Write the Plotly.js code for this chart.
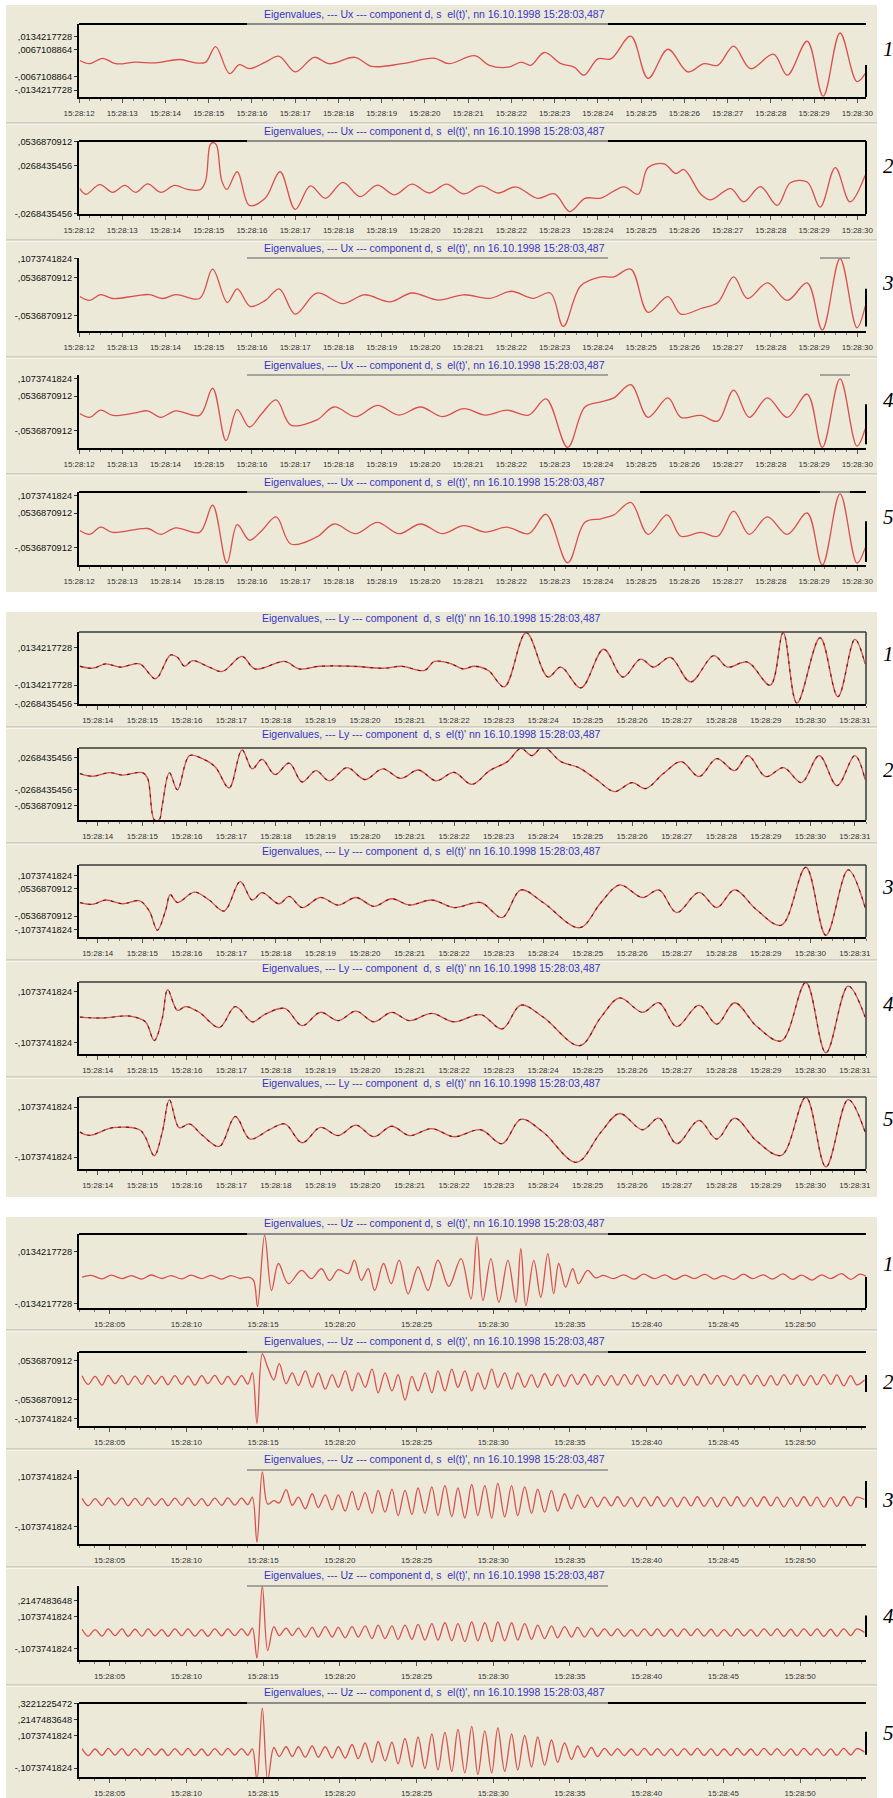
<!DOCTYPE html>
<html><head><meta charset="utf-8">
<script src="https://cdn.plot.ly/plotly-3.0.1.min.js"></script>
<style>html,body{margin:0;padding:0;background:#fff}#chart{width:893px;height:1798px}</style>
</head><body><div id="chart"></div>
<script>
// ---------------- DATA (times in seconds after 15:28:00) ----------------
const groupTitles = [
  "Eigenvalues, --- Ux --- component d, s  el(t)', nn 16.10.1998 15:28:03,487",
  "Eigenvalues, --- Ly --- component  d, s  el(t)' nn 16.10.1998 15:28:03,487",
  "Eigenvalues, --- Uz --- component d, s  el(t)', nn 16.10.1998 15:28:03,487"
];
const panelNumbers = ['1','2','3','4','5'];

const uxTickVals = [12,13,14,15,16,17,18,19,20,21,22,23,24,25,26,27,28,29,30];
const uxTickText = ['15:28:12','15:28:13','15:28:14','15:28:15','15:28:16','15:28:17','15:28:18','15:28:19','15:28:20','15:28:21','15:28:22','15:28:23','15:28:24','15:28:25','15:28:26','15:28:27','15:28:28','15:28:29','15:28:30'];
const lyTickVals = [14,15,16,17,18,19,20,21,22,23,24,25,26,27,28,29,30,31];
const lyTickText = ['15:28:14','15:28:15','15:28:16','15:28:17','15:28:18','15:28:19','15:28:20','15:28:21','15:28:22','15:28:23','15:28:24','15:28:25','15:28:26','15:28:27','15:28:28','15:28:29','15:28:30','15:28:31'];
const uzTickVals = [5,10,15,20,25,30,35,40,45,50];
const uzTickText = ['15:28:05','15:28:10','15:28:15','15:28:20','15:28:25','15:28:30','15:28:35','15:28:40','15:28:45','15:28:50'];

// Ux component
const ux1T = [12.02,12.25,12.55,12.85,13.31,13.77,14.33,14.70,14.93,15.16,15.48,15.71,15.94,16.31,16.63,17.0,17.44,17.78,18.38,18.77,19.47,20.23,20.55,21.15,21.49,21.93,22.23,22.45,22.76,23.15,23.45,23.68,24.0,24.3,24.76,25.16,25.62,26.08,26.45,26.77,27.14,27.53,28.06,28.38,28.84,29.21,29.6,29.99,30.18];
const ux1V = [0.0014,-0.0002,0.0025,-0.0002,0.0006,0.0002,0.0019,0.0002,0.0006,0.0083,-0.0051,-0.0007,-0.0027,0.0006,0.0035,-0.0043,0.003,-0.0002,0.003,-0.0015,-0.0002,0.0025,-0.0002,0.0038,-0.001,-0.0019,0.0006,-0.001,0.0054,-0.0002,-0.0019,-0.0059,0.0022,0.0022,0.0135,-0.0075,0.007,-0.0043,-0.0002,-0.001,0.0086,-0.0027,0.0046,-0.0059,0.011,-0.0164,0.0151,-0.0091,-0.0051];
const ux2T = [12.02,12.16,12.48,12.78,13.06,13.31,13.59,13.89,14.21,14.51,14.81,14.93,15.03,15.1,15.18,15.3,15.42,15.66,15.94,16.31,16.65,17.0,17.35,17.7,18.1,18.5,18.9,19.3,19.7,20.1,20.5,20.9,21.3,21.7,22.1,22.6,23.0,23.35,23.7,24.07,24.6,24.93,25.16,25.53,25.8,25.99,26.38,26.61,27.07,27.37,27.76,28.15,28.45,28.84,29.14,29.49,29.83,30.18];
const ux2V = [0.001,-0.0054,0.0054,-0.0032,0.0045,-0.0032,0.0062,-0.0032,0.0045,0,0,0.01,0.05,0.053,0.05,0.01,0,0.02,-0.018,-0.0097,0.02,-0.0225,0.004,-0.01,0.008,-0.008,0.005,-0.006,0.006,-0.004,0.006,-0.005,0.004,-0.004,0.003,-0.01,-0.005,-0.025,-0.01,-0.0097,0.003,-0.0054,0.0247,0.029,0.018,0.0225,-0.0054,-0.0118,0.001,-0.014,0.0032,-0.018,0.0075,0.0084,-0.02,0.0247,-0.014,0.016];
const ux3T = [12.02,12.25,12.5,12.78,13.31,13.63,13.94,14.24,14.79,15.09,15.43,15.66,15.96,16.31,16.63,17.0,17.5,18.1,18.6,19.2,19.7,20.3,20.9,21.5,22.0,22.5,22.9,23.2,23.6,24.07,24.37,24.76,25.16,25.62,25.92,26.38,26.77,27.14,27.46,27.92,28.38,28.84,29.19,29.6,29.99,30.18];
const ux3V = [0,-0.011,0.0056,-0.0056,0.002,0.0056,-0.0056,0.0056,-0.0056,0.078,-0.017,0.022,-0.028,-0.011,0.022,-0.05,0.01,-0.02,0.005,-0.015,0.01,-0.01,0.005,-0.005,0.015,-0.005,0.01,-0.085,0.03,0.056,0.056,0.078,-0.045,0,-0.05,-0.034,-0.017,0.056,-0.0056,0.039,-0.011,0.039,-0.095,0.108,-0.089,-0.028];
const ux4T = [12.02,12.25,12.5,12.78,13.31,13.59,13.89,14.24,14.79,15.09,15.4,15.66,15.94,16.23,16.56,16.9,17.5,17.9,18.4,18.9,19.4,19.9,20.4,20.9,21.4,21.9,22.4,22.8,23.3,23.7,24.07,24.37,24.76,25.16,25.62,25.92,26.38,26.77,27.14,27.5,27.92,28.38,28.84,29.19,29.6,29.99,30.18];
const ux4V = [0,-0.012,0.01,-0.006,0.002,0.008,-0.012,0.008,-0.006,0.078,-0.084,0.012,-0.042,0,0.042,-0.036,-0.02,0.02,-0.01,0.025,-0.005,0.02,-0.01,0.015,-0.005,0.01,-0.005,0.045,-0.105,0.02,0.036,0.048,0.089,-0.012,0.048,-0.012,-0.006,-0.024,0.072,-0.012,0.048,-0.012,0.06,-0.105,0.107,-0.101,-0.048];
const ux5T = [12.02,12.25,12.5,12.78,13.59,13.89,14.24,14.79,15.09,15.42,15.66,15.94,16.23,16.56,16.9,17.5,17.9,18.4,18.9,19.4,19.9,20.4,20.9,21.4,21.9,22.4,22.8,23.3,23.7,24.07,24.37,24.76,25.16,25.6,25.92,26.38,26.77,27.14,27.5,27.92,28.38,28.84,29.19,29.6,29.99,30.18];
const ux5V = [0,-0.012,0.01,-0.006,0.006,-0.012,0.008,-0.006,0.078,-0.101,0.018,-0.03,0,0.042,-0.042,-0.02,0.02,-0.01,0.025,-0.01,0.02,-0.01,0.015,-0.005,0.01,-0.01,0.05,-0.1,0.025,0.036,0.048,0.087,-0.012,0.048,-0.018,-0.006,-0.018,0.06,-0.012,0.042,-0.012,0.054,-0.107,0.113,-0.101,-0.054];

// Ly component
const ly1T = [13.6,13.89,14.18,14.51,14.94,15.3,15.63,15.79,15.95,16.13,16.5,16.8,17.24,17.53,18.2,18.52,18.97,19.7,20.44,20.82,21.34,21.56,21.94,22.2,22.46,22.77,23.13,23.62,24.11,24.4,24.85,25.36,25.79,26.19,26.48,26.86,27.31,27.83,28.14,28.59,29.1,29.39,29.7,30.22,30.62,31.0,31.23];
const ly1V = [0,-0.0014,0.0017,-0.0006,0.0017,-0.0089,0.008,0.0064,0,0.004,-0.0006,-0.0037,0.007,-0.0019,0.0034,-0.0019,0,0,-0.0014,0,-0.003,0.0034,0.0017,-0.0019,0,-0.003,-0.0147,0.0239,-0.0077,-0.0006,-0.0154,0.0121,-0.0077,0.0051,-0.0006,0.0063,-0.0112,0.0075,-0.0006,0.003,-0.0135,0.0239,-0.0263,0.0203,-0.0217,0.0192,0.0017];
const ly2T = [13.6,13.89,14.27,14.56,15.0,15.12,15.27,15.38,15.45,15.61,15.79,16.06,16.35,16.64,16.95,17.24,17.47,17.69,17.98,18.3,18.59,18.9,19.2,19.6,20.0,20.4,20.8,21.2,21.6,22.0,22.4,22.8,23.2,23.5,23.75,24.0,24.4,24.8,25.2,25.6,26.0,26.3,26.7,27.1,27.5,27.9,28.3,28.6,29.0,29.4,29.8,30.2,30.6,31.0,31.23];
const ly2V = [0,-0.0044,0.0016,-0.0025,0.0016,-0.0079,-0.077,-0.077,-0.052,0.0016,-0.027,0.03,0.025,0.011,-0.024,0.0395,0.0079,0.0237,-0.0016,0.0174,-0.014,0.005,-0.012,0.01,-0.01,0.008,-0.008,0.006,-0.012,0.002,-0.018,0.005,0.02,0.042,0.03,0.045,0.02,0.01,-0.01,-0.03,-0.015,-0.025,0,0.02,-0.005,0.025,0.005,0.03,-0.005,0.01,-0.015,0.03,-0.02,0.03,-0.01];
const ly3T = [13.6,13.89,14.18,14.56,14.94,15.16,15.34,15.52,15.63,15.79,16.17,16.5,16.84,17.2,17.47,17.69,18.07,18.3,18.59,19.0,19.4,19.8,20.2,20.6,21.0,21.5,22.0,22.6,23.08,23.5,24.0,24.82,25.3,25.72,26.23,26.6,27.0,27.5,27.9,28.3,28.8,29.35,29.9,30.35,30.85,31.23];
const ly3V = [0,-0.007,0.01,-0.005,0.007,-0.034,-0.11,-0.034,0.031,0,0.041,0.01,-0.034,0.083,0.01,0.039,-0.005,0.024,-0.02,0.02,-0.01,0.02,-0.015,0.015,-0.01,0.01,-0.02,0,-0.06,0.05,0,-0.1,0,0.07,0.02,0.05,-0.04,0.04,-0.02,0.05,-0.03,-0.09,0.14,-0.13,0.13,-0.02];
const ly4T = [13.6,14.11,14.72,15.07,15.27,15.45,15.57,15.79,15.97,16.28,16.73,17.09,17.47,17.76,18.2,18.59,19.0,19.4,19.8,20.2,20.6,21.0,21.5,22.0,22.6,23.08,23.5,24.0,24.82,25.3,25.72,26.23,26.6,27.0,27.5,27.9,28.3,28.8,29.35,29.9,30.35,30.85,31.23];
const ly4V = [0,-0.004,0.004,-0.02,-0.099,-0.004,0.115,0.028,0.044,0.02,-0.044,0.044,-0.02,0.012,0.036,-0.036,0.02,-0.015,0.025,-0.02,0.02,-0.015,0.015,-0.02,0.01,-0.05,0.05,0,-0.12,0,0.08,0.02,0.06,-0.04,0.05,-0.03,0.06,-0.04,-0.1,0.145,-0.15,0.13,0];
const ly5T = [13.6,13.82,14.34,14.94,15.07,15.27,15.45,15.61,15.83,16.06,16.35,16.73,17.09,17.42,17.85,18.2,18.59,19.0,19.4,19.8,20.2,20.6,21.0,21.5,22.0,22.6,23.08,23.5,24.0,24.75,25.3,25.72,26.23,26.6,27.0,27.5,27.9,28.3,28.8,29.35,29.9,30.35,30.85,31.23];
const ly5V = [0,-0.014,0.019,0.01,-0.022,-0.102,0,0.139,0.019,0.035,-0.014,-0.062,0.067,-0.03,0.01,0.035,-0.046,0.02,-0.015,0.03,-0.02,0.025,-0.015,0.015,-0.02,0.01,-0.05,0.055,0,-0.13,0,0.08,0.01,0.06,-0.05,0.05,-0.03,0.06,-0.04,-0.1,0.15,-0.15,0.14,0];

// Uz component
const uz1T = [3.2,3.8,4.5,5.1,5.8,6.4,7.1,7.7,8.4,9.0,9.7,10.3,11.0,11.6,12.3,12.9,13.5,14.06,14.38,14.64,15.1,15.55,16.0,16.65,17.5,18.15,18.8,19.33,19.9,20.55,20.95,21.4,21.85,22.27,22.85,23.35,23.87,24.45,25.1,25.75,26.4,27.1,27.9,28.55,28.94,29.33,29.85,30.37,30.96,31.48,31.8,32.13,32.65,33.1,33.56,33.94,34.27,34.72,35.18,35.56,36.15,36.67,37.19,37.84,38.5,39.2,39.8,40.5,41.2,41.8,42.5,43.1,43.8,44.4,45.0,45.7,46.3,46.9,47.6,48.2,48.9,49.5,50.1,50.8,51.4,52.0,52.7,53.3,53.9,54.4];
const uz1V = [0.0004,0.0013,-0.0005,0.0014,-0.0004,0.0012,-0.0006,0.0015,-0.0003,0.0012,-0.0005,0.0014,-0.0004,0.0013,-0.0006,0.0012,-0.0003,0.0004,-0.0013,-0.0148,0.022,-0.0065,0.0074,-0.003,0.0039,-0.0004,0.0048,-0.0013,0.0042,0.0022,0.0091,-0.0013,0.0048,-0.0065,0.0074,-0.003,0.0091,-0.0082,0.0056,-0.0065,0.0091,-0.0044,0.0099,-0.0108,0.0212,-0.0117,0.0099,-0.0125,0.009,-0.0125,0.015,-0.0143,0.009,-0.01,0.0125,-0.0082,0.0074,-0.0048,0.0048,-0.003,0.0039,0,0.0013,-0.0004,0.0016,-0.0006,0.0019,-0.0004,0.0016,-0.0008,0.0014,-0.0004,0.0018,-0.0006,0.0012,-0.0008,0.0019,-0.0004,0.0016,-0.0006,0.0021,-0.0008,0.0014,-0.0011,0.0016,-0.0004,0.0022,-0.0008,0.0019,0.0004];
const uzT = [3.2,3.6,4.05,4.5,4.9,5.35,5.8,6.2,6.65,7.1,
 7.5,7.95,8.4,8.8,9.25,9.7,10.1,10.55,11.0,11.4,
 11.85,12.3,12.7,13.15,13.6,14.0,14.3,14.6,14.95,15.3,
 15.7,16.05,16.5,16.9,17.3,17.75,18.2,18.6,19.05,19.5,
 19.9,20.35,20.8,21.2,21.65,22.1,22.5,22.95,23.4,23.8,
 24.25,24.7,25.1,25.55,26.0,26.4,26.85,27.3,27.7,28.15,
 28.6,29.0,29.45,29.9,30.3,30.75,31.2,31.6,32.05,32.5,
 32.9,33.35,33.8,34.2,34.65,35.1,35.5,35.95,36.4,36.8,
 37.25,37.7,38.1,38.55,39.0,39.4,39.85,40.3,40.7,41.15,
 41.6,42.0,42.45,42.9,43.3,43.75,44.2,44.6,45.05,45.5,
 45.9,46.35,46.8,47.2,47.65,48.1,48.5,48.95,49.4,49.8,
 50.25,50.7,51.1,51.55,52.0,52.4,52.85,53.3,53.7,54.2];
const uz2V = [0.012,-0.012,0.01,-0.014,0.013,-0.01,0.012,-0.013,0.011,-0.012,
 0.013,-0.011,0.01,-0.013,0.012,-0.012,0.011,-0.014,0.012,-0.01,
 0.013,-0.012,0.01,-0.013,0.012,-0.011,0.02,-0.12,0.072,0.035,
 0.0,0.045,-0.01,0.02,-0.015,0.025,-0.02,0.02,-0.025,0.015,
 -0.02,0.025,-0.03,0.02,-0.02,0.03,-0.035,0.02,-0.03,0.015,
 -0.055,0.01,-0.03,0.02,-0.035,0.025,-0.03,0.03,-0.02,0.025,
 -0.03,0.02,-0.025,0.03,-0.02,0.02,-0.025,0.02,-0.02,0.015,
 -0.02,0.018,-0.015,0.015,-0.018,0.015,-0.012,0.016,-0.014,0.012,
 -0.015,0.012,-0.014,0.015,-0.012,0.014,-0.016,0.012,-0.013,0.015,
 -0.012,0.014,-0.015,0.012,-0.014,0.016,-0.012,0.013,-0.015,0.012,
 -0.014,0.015,-0.012,0.013,-0.016,0.012,-0.014,0.015,-0.012,0.014,
 -0.015,0.012,-0.013,0.015,-0.012,0.014,-0.016,0.012,-0.013,0.0];
const uz3V = [0.015,-0.017,0.014,-0.016,0.017,-0.014,0.016,-0.017,0.015,-0.016,
 0.017,-0.015,0.014,-0.017,0.016,-0.015,0.017,-0.016,0.014,-0.017,
 0.016,-0.015,0.017,-0.014,0.016,-0.012,0.02,-0.175,0.13,-0.01,
 0.005,-0.005,0.053,-0.015,0.02,-0.03,0.035,-0.025,0.03,-0.035,
 0.03,-0.04,0.045,-0.035,0.04,-0.05,0.05,-0.045,0.055,-0.06,
 0.05,-0.055,0.06,-0.05,0.065,-0.06,0.07,-0.065,0.06,-0.07,
 0.075,-0.06,0.07,-0.07,0.08,-0.065,0.07,-0.06,0.065,-0.05,
 0.055,-0.045,0.05,-0.04,0.035,-0.03,0.03,-0.025,0.02,-0.022,
 0.02,-0.018,0.022,-0.02,0.018,-0.022,0.02,-0.018,0.022,-0.02,
 0.018,-0.022,0.02,-0.018,0.022,-0.02,0.018,-0.022,0.02,-0.018,
 0.022,-0.02,0.018,-0.02,0.022,-0.018,0.02,-0.022,0.018,-0.02,
 0.022,-0.018,0.02,-0.022,0.018,-0.02,0.022,-0.018,0.02,0.01];
const uz4V = [0.022,-0.025,0.02,-0.024,0.025,-0.02,0.024,-0.025,0.022,-0.024,
 0.025,-0.022,0.02,-0.025,0.024,-0.022,0.025,-0.024,0.02,-0.025,
 0.024,-0.022,0.025,-0.02,0.024,-0.02,0.03,-0.17,0.31,-0.12,
 0.04,-0.02,0.03,-0.02,0.03,-0.03,0.035,-0.03,0.04,-0.03,
 0.035,-0.035,0.04,-0.03,0.045,-0.04,0.05,-0.04,0.045,-0.045,
 0.05,-0.045,0.055,-0.05,0.06,-0.05,0.065,-0.055,0.06,-0.06,
 0.07,-0.055,0.065,-0.06,0.07,-0.055,0.065,-0.05,0.06,-0.045,
 0.05,-0.04,0.045,-0.035,0.04,-0.03,0.035,-0.03,0.03,-0.025,
 0.025,-0.022,0.024,-0.025,0.02,-0.024,0.025,-0.022,0.024,-0.025,
 0.022,-0.025,0.024,-0.02,0.025,-0.024,0.022,-0.025,0.02,-0.024,
 0.025,-0.022,0.02,-0.024,0.025,-0.02,0.024,-0.025,0.022,-0.024,
 0.025,-0.02,0.024,-0.025,0.022,-0.024,0.025,-0.02,0.024,0.0];
const uz5V = [0.022,-0.024,0.02,-0.023,0.024,-0.02,0.023,-0.024,0.021,-0.023,
 0.024,-0.021,0.02,-0.024,0.023,-0.021,0.024,-0.023,0.02,-0.024,
 0.023,-0.021,0.024,-0.02,0.023,-0.02,0.02,-0.19,0.293,-0.19,
 0.03,-0.03,0.035,-0.03,0.035,-0.035,0.04,-0.035,0.035,-0.04,
 0.035,-0.04,0.05,-0.045,0.06,-0.07,0.07,-0.06,0.065,-0.08,
 0.09,-0.1,0.1,-0.11,0.12,-0.12,0.13,-0.13,0.15,-0.14,
 0.17,-0.15,0.14,-0.14,0.16,-0.13,0.12,-0.12,0.11,-0.1,
 0.1,-0.09,0.08,-0.07,0.06,-0.05,0.04,-0.035,0.03,-0.03,
 0.024,-0.022,0.023,-0.024,0.02,-0.023,0.024,-0.021,0.023,-0.024,
 0.021,-0.024,0.023,-0.02,0.024,-0.023,0.021,-0.024,0.02,-0.023,
 0.024,-0.021,0.02,-0.023,0.024,-0.02,0.023,-0.024,0.021,-0.023,
 0.024,-0.02,0.023,-0.024,0.021,-0.023,0.024,-0.02,0.023,0.0];

// y tick values (labels are written in the original comma-decimal style)
const yv = {
  a:[0.0134217728,0.0067108864,-0.0067108864,-0.0134217728],
  b:[0.0536870912,0.0268435456,-0.0268435456],
  c:[0.1073741824,0.0536870912,-0.0536870912],
  d:[0.1073741824,0.0536870912,-0.0536870912,-0.1073741824],
  e:[0.0134217728,-0.0134217728,-0.0268435456],
  f:[0.0268435456,-0.0268435456,-0.0536870912],
  g:[0.1073741824,-0.1073741824],
  h:[0.0134217728,-0.0134217728],
  i:[0.0536870912,-0.0536870912,-0.1073741824],
  j:[0.2147483648,0.1073741824,-0.1073741824],
  k:[0.3221225472,0.2147483648,0.1073741824,-0.1073741824]
};
function lab(v){ const s = Math.abs(v).toFixed(10).slice(1); return (v<0?'-':'') + s.replace('.',','); }

// ---------------- LAYOUT ----------------
const W = 893, H = 1798;
const X = p => p / W, Y = p => 1 - p / H;
const XL = 79, XR = 866;
const groups = [
  {tops:[24,141,258,375,492], h:73, range:[12.0,30.2], tv:uxTickVals, tt:uxTickText, minor:0.25, tick0:12, titleOff:-10, numOff:25, bg:[5,592], seps:[123,240,357,474], box:false, titleX:434, dash:false},
  {tops:[632,748,865,982,1097], h:72, range:[13.58,31.25], tv:lyTickVals, tt:lyTickText, minor:0.25, tick0:14, titleOff:-14, numOff:22, bg:[612,1197], seps:[727,843,960,1077], box:true, titleX:431, dash:true},
  {tops:[1234,1352,1470,1586,1703], h:74, range:[3.0,54.3], tv:uzTickVals, tt:uzTickText, minor:1, tick0:5, titleOff:-11, numOff:30, bg:[1217,1798], seps:[1330,1449,1567,1685], box:false, titleX:434, dash:false}
];
const panels = [
  {g:0,t:ux1T,v:ux1V,yr:[-0.0168,0.0196],yt:yv.a,top:'full',rs:[0.56,1]},
  {g:0,t:ux2T,v:ux2V,yr:[-0.0277,0.0547],yt:yv.b,top:'full',rs:[0,1]},
  {g:0,t:ux3T,v:ux3V,yr:[-0.098,0.1096],yt:yv.c,top:'grey2',rs:[0.42,0.94]},
  {g:0,t:ux4T,v:ux4V,yr:[-0.107,0.119],yt:yv.d,top:'grey2',rs:[0.4,0.95]},
  {g:0,t:ux5T,v:ux5V,yr:[-0.107,0.119],yt:yv.d,top:'p5',rs:[0.4,0.96]},
  {g:1,t:ly1T,v:ly1V,yr:[-0.0269,0.0244],yt:yv.e},
  {g:1,t:ly2T,v:ly2V,yr:[-0.0774,0.0427],yt:yv.f},
  {g:1,t:ly3T,v:ly3V,yr:[-0.137,0.149],yt:yv.d},
  {g:1,t:ly4T,v:ly4V,yr:[-0.155,0.147],yt:yv.g},
  {g:1,t:ly5T,v:ly5V,yr:[-0.159,0.151],yt:yv.g},
  {g:2,t:uz1T,v:uz1V,yr:[-0.0155,0.0226],yt:yv.h,top:'full',rs:[0.58,1]},
  {g:2,t:uzT,v:uz2V,yr:[-0.1267,0.0773],yt:yv.i,top:'full',rs:[0.31,0.54]},
  {g:2,t:uzT,v:uz3V,yr:[-0.183,0.138],yt:yv.g,top:'grey',rs:[0.15,0.51]},
  {g:2,t:uzT,v:uz4V,yr:[-0.183,0.31],yt:yv.j,top:'grey',rs:[0.4,0.69]},
  {g:2,t:uzT,v:uz5V,yr:[-0.167,0.327],yt:yv.k,top:'full',rs:[0.39,0.7]}
];

const BEIGE = '#ECE9D8', TRACE = '#D9504C';
const data = [], shapes = [], annotations = [];
const layout = {
  width: W, height: H, margin:{l:0,r:0,t:0,b:0},
  paper_bgcolor:'#ffffff', plot_bgcolor: BEIGE, showlegend:false,
  font:{family:'Liberation Sans, Arial, sans-serif', color:'#111'}
};
function hl(x0,x1,y,c,w){ shapes.push({type:'line',xref:'paper',yref:'paper',x0:X(x0),x1:X(x1),y0:Y(y),y1:Y(y),line:{color:c,width:w}}); }
function vl(x,y0,y1,c,w){ shapes.push({type:'line',xref:'paper',yref:'paper',x0:X(x),x1:X(x),y0:Y(y0),y1:Y(y1),line:{color:c,width:w}}); }

groups.forEach(G=>{
  shapes.push({type:'rect',xref:'paper',yref:'paper',layer:'below',x0:X(6),x1:X(877),y0:Y(G.bg[1]),y1:Y(G.bg[0]),fillcolor:BEIGE,line:{width:0}});
  G.seps.forEach(s=>{ hl(6,877,s,'#b4b2a6',1); hl(6,877,s+1.2,'#fafaf6',1); });
});

panels.forEach((P,i)=>{
  const n = i+1, G = groups[P.g], k = i % 5;
  const top = G.tops[k], bot = top + G.h;
  const sx = (n===1?'':n);
  data.push({type:'scatter', mode:'lines', x:P.t, y:P.v, xaxis:'x'+sx, yaxis:'y'+sx,
    line:{color:TRACE, width:1.3, shape:'spline', smoothing:1}, hoverinfo:'skip'});
  if (G.dash) {
    data.push({type:'scatter', mode:'lines', x:P.t, y:P.v, xaxis:'x'+sx, yaxis:'y'+sx,
      line:{color:'#5a1f1c', width:1.1, shape:'spline', smoothing:1, dash:'3px,5px'}, hoverinfo:'skip'});
  }
  layout['xaxis'+sx] = {domain:[X(XL),X(XR)], range:G.range, anchor:'y'+sx, tickmode:'array', tickvals:G.tv, ticktext:G.tt,
    ticks:'outside', ticklen:4, tickwidth:1, tickcolor:'#555', tickfont:{size:8,color:'#333'}, ticklabelstandoff:3,
    showline:true, linecolor:'#000', linewidth:2, showgrid:false, zeroline:false, fixedrange:true,
    minor:{tickmode:'linear', tick0:G.tick0, dtick:G.minor, ticks:'outside', ticklen:2, tickcolor:'#777', showgrid:false}};
  layout['yaxis'+sx] = {domain:[Y(bot),Y(top)], range:P.yr, anchor:'x'+sx, tickmode:'array', tickvals:P.yt, ticktext:P.yt.map(lab),
    ticks:'outside', ticklen:3, tickcolor:'#333', tickfont:{size:9.3,color:'#111'},
    showline:true, linecolor:'#000', linewidth:2, showgrid:false, zeroline:false, fixedrange:true};
  if (G.box) {
    hl(XL,XR,top,'#3a3a3a',1.5); vl(XR,top,bot,'#3a3a3a',1.5);
  } else {
    if (P.top==='full') { hl(XL,247,top,'#000',2); hl(247,608,top,'#8c8c88',2); hl(608,XR,top,'#000',2); }
    else if (P.top==='grey') { hl(247,608,top,'#8c8c88',1.5); }
    else if (P.top==='grey2') { hl(247,608,top,'#8c8c88',1.5); hl(820,850,top,'#8c8c88',1.5); }
    else if (P.top==='p5') { hl(XL,247,top,'#000',2); hl(247,640,top,'#8c8c88',2); hl(640,820,top,'#000',2); hl(820,850,top,'#8c8c88',2); hl(850,XR,top,'#000',2); }
    vl(XR, top + P.rs[0]*G.h, top + P.rs[1]*G.h, '#000', 2);
  }
  annotations.push({xref:'paper',yref:'paper',x:X(G.titleX),y:Y(top+G.titleOff),xanchor:'center',yanchor:'middle',showarrow:false,
    text:groupTitles[P.g], font:{size:10.5,color:'#3535c8'}});
  annotations.push({xref:'paper',yref:'paper',x:X(888),y:Y(top+G.numOff),xanchor:'center',yanchor:'middle',showarrow:false,
    text:panelNumbers[k], font:{family:'Liberation Serif, Times New Roman, serif',size:21,color:'#000',style:'italic'}});
});
layout.shapes = shapes; layout.annotations = annotations;
Plotly.newPlot('chart', data, layout, {staticPlot:true, displayModeBar:false});
</script>
</body></html>
